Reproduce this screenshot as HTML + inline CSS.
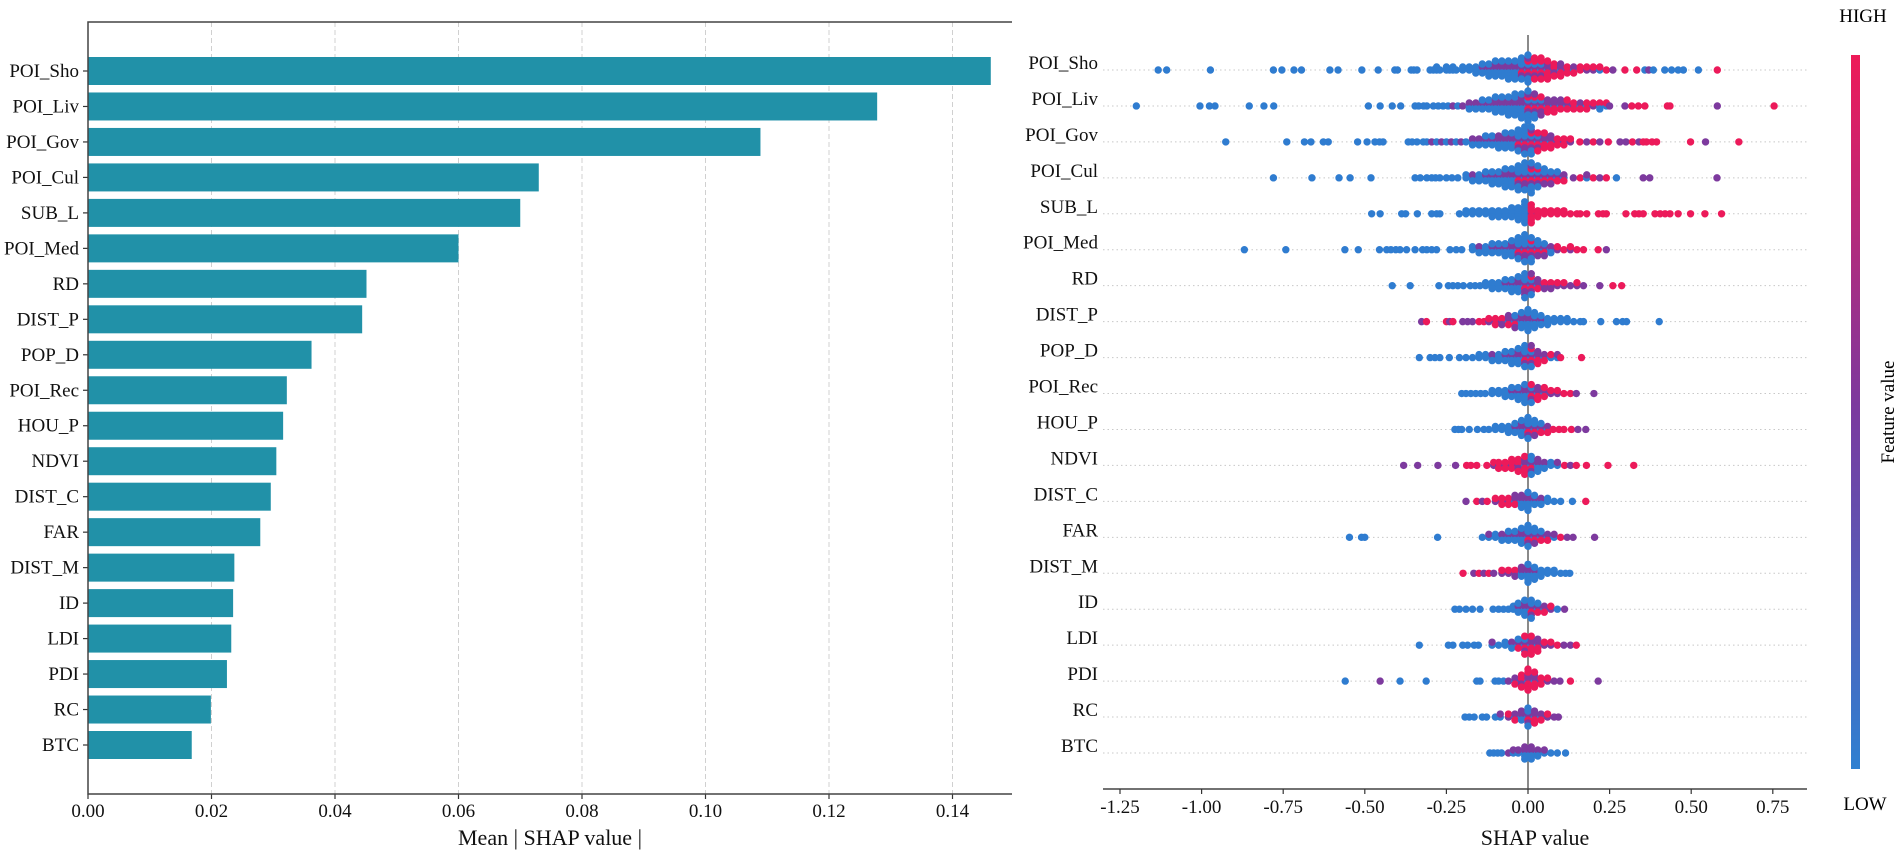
<!DOCTYPE html>
<html><head><meta charset="utf-8"><style>
html,body{margin:0;padding:0;background:#fff}
svg{display:block;font-family:"Liberation Serif","DejaVu Serif",serif}
</style></head><body>
<svg id="fig" width="1902" height="859" viewBox="0 0 1902 859" xmlns="http://www.w3.org/2000/svg">
<defs>
<linearGradient id="cbar" x1="0" y1="1" x2="0" y2="0">
<stop offset="0" stop-color="#2f80d1"/><stop offset="0.5" stop-color="#7a3a9f"/><stop offset="1" stop-color="#ee1a58"/>
</linearGradient>
</defs>
<g id="left"></g>
<g id="right"></g>
<g id="cb">
<line x1="1851" y1="34" x2="1851" y2="789" stroke="url(#cbar)" stroke-width="1.5"/>
<rect x="1851" y="55" width="9" height="714" fill="url(#cbar)"/>
<text x="1863" y="22" font-size="19" text-anchor="middle">HIGH</text>
<text x="1865" y="810" font-size="19" text-anchor="middle">LOW</text>
<text transform="translate(1894,412) rotate(-90)" font-size="19" text-anchor="middle">Feature value</text>
</g>
</svg>
<script>
const features = ["POI_Sho","POI_Liv","POI_Gov","POI_Cul","SUB_L","POI_Med","RD","DIST_P","POP_D","POI_Rec","HOU_P","NDVI","DIST_C","FAR","DIST_M","ID","LDI","PDI","RC","BTC"];
const meanShap = [0.1462,0.1278,0.1089,0.0730,0.0700,0.0600,0.0451,0.0444,0.0362,0.0322,0.0316,0.0305,0.0296,0.0279,0.0237,0.0235,0.0232,0.0225,0.0199,0.0168];
const barTicks = [0.00,0.02,0.04,0.06,0.08,0.10,0.12,0.14];
const shapTicks = [-1.25,-1.00,-0.75,-0.50,-0.25,0.00,0.25,0.50,0.75];
const swarmRows = [
"-1.133b -1.107b -0.973b -0.78b -0.754b -0.717b -0.694b -0.607b -0.582b -0.509b -0.459b -0.408b -0.4b -0.358b -0.35b -0.34b -0.3b -0.29b -0.28b2 -0.27b -0.25b2 -0.24b -0.23b2 -0.22b -0.2b2 -0.18b2 -0.16b3 -0.14b3p1 -0.12b4p1 -0.1b4p2 -0.08b4p2 -0.06b5p2 -0.04b5p2 -0.02b5p2r1 0b5p3r2 0.02r4b2p2 0.04r4p2b2 0.06r4p2b1 0.08r3p2 0.1r2p2b1 0.12r2p1 0.14r1p1b1 0.16r2 0.18r1p1 0.2r1p1 0.22r1b1 0.24r1 0.26p1 0.297r 0.333r 0.358b 0.37p 0.384b 0.419b 0.44b 0.46b 0.476b 0.522b 0.58r",
"-1.2b -1.005b -0.976b -0.959b -0.854b -0.809b -0.779b -0.489b -0.453b -0.416b -0.39b -0.346b -0.335b -0.32b -0.31b -0.29b -0.275b -0.26b -0.245b -0.23p -0.215b -0.2p -0.18b2p1 -0.16b2p1 -0.14b3p1 -0.12b3p1 -0.1b4p2 -0.08b4p2 -0.06b5p2 -0.04b6p2 -0.02b6p3 0b6p3r2 0.02b4p3r2 0.04p3r2b2 0.06r2p2b1 0.08r2p2b1 0.1p2r1b1 0.12r2p1b1 0.14r2p1 0.16p1r1b1 0.18r2b1 0.2r1p1 0.22b2r1 0.24b1r1 0.25p 0.297p 0.318r 0.338r 0.358r 0.427r 0.435r 0.58p 0.754r",
"-0.926b -0.739b -0.685b -0.665b -0.627b -0.612b -0.522b -0.493b -0.469b -0.455b -0.444b -0.367b -0.355b -0.34b -0.321b -0.31b -0.295p -0.28b -0.265p -0.25b -0.235p -0.22b -0.205p -0.19b -0.17b2p1 -0.15b2p1 -0.13b3p1 -0.11b3p1 -0.09b3p2 -0.07b4p2 -0.05b4p2 -0.03b5p2r1 -0.01b6p3r1 0.01b5p3r2 0.03r3p2b2 0.05r3p2b1 0.07r2p2b1 0.09r2p1 0.11r2p1 0.13p1r1 0.159r 0.18p 0.2r 0.22p 0.246r 0.282p 0.3p 0.32r 0.34p 0.353r 0.363r 0.38r 0.394r 0.498r 0.544p 0.646r",
"-0.78b -0.662b -0.579b -0.545b -0.481b -0.346b -0.33b -0.31b -0.295b -0.283b -0.27b -0.25b -0.233b -0.215b -0.19b2 -0.17b2p1 -0.15b3 -0.13b3p1 -0.11b4p1 -0.09b4p1 -0.07b5p2 -0.05b5p2 -0.03b6p2r1 -0.01b6p3r1 0.01b6p3r2 0.03b4p2r2 0.05b3p2r1 0.07b2p2r1 0.09b2p1r1 0.11b1p1r1 0.139p 0.16r 0.18b1p1 0.2r 0.22p 0.24r 0.271b 0.353p 0.373p 0.579p",
"-0.479b -0.453b -0.387b -0.375b -0.339b -0.295b -0.28b -0.27b -0.21b -0.19b2 -0.17b2 -0.15b2 -0.13b2 -0.11b3 -0.09b3 -0.07b3 -0.05b4 -0.03b5 -0.01b8 0.01r6p1 0.03r3 0.05r2 0.07r2 0.09r2 0.11r2 0.13r 0.15r 0.16r 0.18r 0.216r 0.23r 0.24r 0.3r 0.327r 0.34r 0.353r 0.389r 0.405r 0.42r 0.435r 0.46r 0.498r 0.542r 0.593r",
"-0.869b -0.742b -0.561b -0.52b -0.455b -0.433b -0.42b -0.405b -0.392b -0.372b -0.346b -0.323b -0.31b -0.295b -0.28b -0.239b -0.22b -0.203b -0.17b2 -0.15b2p1 -0.13b3 -0.11b3p1 -0.09b3p1 -0.07b4p1 -0.05b4p2 -0.03b5p2r1 -0.01b6p3r1 0.01b5p2r2 0.03b3p2r1 0.05b2p2r1 0.07b2p1 0.09r1p1 0.11r 0.13r1p1 0.15r 0.17r 0.215r 0.24p",
"-0.416b -0.361b -0.273b -0.244b -0.23b -0.215b -0.198b -0.177b -0.162b -0.147b -0.13b2 -0.11b3 -0.09b3 -0.07b3p1 -0.05b4p1 -0.03b4p2 -0.01b5p3r1 0.01p3r2b3 0.03p2r1b1 0.05p2r1 0.07p2r1 0.09p1r1 0.11p1r1 0.13p 0.15r1p1 0.17p 0.22p 0.26r 0.287r",
"-0.326p -0.311r -0.25r -0.24p -0.23r -0.2p -0.185p -0.17p -0.15r -0.135r -0.12r1p1 -0.1r2p1 -0.08p2r1 -0.06p2r1b1 -0.04p2r1b2 -0.02b4p2 0b6p2 0.02b5p1 0.04b3p1 0.06b3 0.08b2 0.1b2 0.12b2 0.14b 0.16b 0.17b 0.223b 0.271b 0.29b 0.302b 0.402b",
"-0.333b -0.3b -0.285b -0.27b -0.241b -0.21b -0.19b -0.17b -0.15b2 -0.13b2 -0.11b2p1 -0.09b3 -0.07b3p1 -0.05b4p1 -0.03b4p2 -0.01b5p2r1 0.01b3p3r2 0.03p2r2b1 0.05p1r1b1 0.07r1b1 0.09b1p1 0.1r 0.164r",
"-0.203b -0.19b -0.175b -0.16b -0.145b -0.131b -0.11b2 -0.09b2 -0.07b3 -0.05b3p1 -0.03b4p1 -0.01b5p2 0.01b3p2r2 0.03p2r2b1 0.05r2p1b1 0.07r1p1 0.09r1p1 0.11r 0.13r 0.148p 0.202p",
"-0.224b -0.213b -0.203b -0.18b -0.155b -0.135b -0.12b -0.1b2 -0.08b2 -0.06b3 -0.04b3p1 -0.02b4p2 0b5p2r1 0.02b3p2r1 0.04b2p1r1 0.06b1p1r1 0.077r 0.095r 0.11r 0.133r 0.153p 0.177p",
"-0.381p -0.338p -0.276p -0.222p -0.188r -0.175r -0.157r -0.126r -0.105r1p1 -0.09r2p1 -0.07r2p1 -0.05r3p1 -0.03r3p2 -0.01r4p2b1 0.01b4p2r1 0.03b3p2 0.05b2p1 0.07b2 0.09b1p1 0.112r 0.13p 0.148r 0.179r 0.245r 0.324r",
"-0.19p -0.157r -0.14p -0.125r -0.1r1p1 -0.08r2p1 -0.06r2p1 -0.04p2r1b1 -0.02b3p2 0b5p2 0.02b3p1 0.04b2p1 0.06b2 0.08b 0.1b 0.136b 0.177r",
"-0.547b -0.51b -0.5b -0.277b -0.14b -0.12b1p1 -0.1b2 -0.08b2p1 -0.06b3p1 -0.04b3p1 -0.02b4p2 0b5p2r1 0.02b3p2r1 0.04b2p1r1 0.06b1p1r1 0.08p1b1 0.1r 0.12p 0.138p 0.204p",
"-0.199r -0.166p -0.15r -0.135p -0.12r -0.105p -0.08r1p1 -0.06r1p1 -0.04p2r1 -0.02p2b2 0b5p2 0.02b4p1 0.04b3 0.06b2 0.08b2 0.1b 0.115b 0.128b",
"-0.224b -0.21b -0.19b -0.17b -0.147b -0.107b -0.09b -0.075b -0.06b -0.045b2 -0.03b3p1 -0.01b4p2 0.01b4p2r1 0.03b2p1r1 0.05b1p1r1 0.07p1r1 0.09b 0.112p",
"-0.333b -0.244b -0.23b -0.2b -0.185b -0.165b -0.152b -0.11b1p1 -0.09b -0.07b2 -0.05b2p1 -0.03b2p1r1 -0.01r3p2b2 0.01r4p2b1 0.03r2p2b1 0.05r1p1 0.07p1r1 0.09r 0.11p 0.13p 0.148r",
"-0.56b -0.453p -0.392b -0.312b -0.157b -0.147b -0.101b -0.09b -0.075b -0.06p -0.04r1p1b1 -0.02r3p2 0r5p2b1 0.02r3p2b1 0.04r2p1 0.06p1r1 0.08p 0.098p 0.13r 0.215p",
"-0.193b -0.18b -0.165b -0.14b -0.127b -0.1b -0.085b1p1 -0.06r1p1 -0.04p1b1r1 -0.02p2b2 0b4p2r1 0.02r2p2b1 0.04p1r1b1 0.06p1r1 0.08p 0.093p",
"-0.117b -0.105b -0.093b -0.081b -0.06p -0.045p1b1 -0.03p1b1 -0.01b3p2 0.01b3p2 0.03b2p1 0.05p1b1 0.07b 0.09b 0.115b"
];

const NS = "http://www.w3.org/2000/svg";
function mk(parent, tag, attrs, text){
  const el = document.createElementNS(NS, tag);
  for (const k in attrs) el.setAttribute(k, attrs[k]);
  if (text !== undefined) el.textContent = text;
  parent.appendChild(el);
  return el;
}

/* ---------- left bar chart ---------- */
const L = document.getElementById('left');
const bx0 = 88, bx1 = 1012, bTop = 22, bBot = 794;
const bScale = v => bx0 + v * 6175;
const rowPitchL = (745 - 71) / 19;
const bRowY = i => 71 + i * rowPitchL;

barTicks.forEach(t => {
  if (t > 0) {
    const g = mk(L, 'line', {x1: bScale(t), x2: bScale(t), y1: bTop, y2: bBot, stroke: '#d0d0d0', 'stroke-width': 1, 'stroke-dasharray': '5,3'});
    
    
  }
});
meanShap.forEach((v, i) => {
  const r = mk(L, 'rect', {x: bx0, y: bRowY(i) - 14, width: bScale(v) - bx0, height: 28, fill: '#2191a8'});
  
  
  const tk = mk(L, 'line', {x1: bx0 - 5, x2: bx0, y1: bRowY(i), y2: bRowY(i), stroke: '#333', 'stroke-width': 1.2});
  
  
  const lb = mk(L, 'text', {x: bx0 - 9, y: bRowY(i) + 6, 'font-size': 19, 'text-anchor': 'end', fill: '#111'}, features[i]);
  
  
});
barTicks.forEach(t => {
  const tk = mk(L, 'line', {x1: bScale(t), x2: bScale(t), y1: bBot, y2: bBot + 5, stroke: '#333', 'stroke-width': 1.2});
  
  
  const lb = mk(L, 'text', {x: bScale(t), y: 817, 'font-size': 19, 'text-anchor': 'middle', fill: '#111'}, t.toFixed(2));
  
  
});
const sp1 = mk(L, 'polyline', {points: `${bx1},${bTop} ${bx0},${bTop} ${bx0},${bBot} ${bx1},${bBot}`, fill: 'none', stroke: '#444', 'stroke-width': 1.5});


const lt = mk(L, 'text', {x: 550, y: 845, 'font-size': 22, 'text-anchor': 'middle', fill: '#111'}, 'Mean | SHAP value |');



/* ---------- right beeswarm ---------- */
const R = document.getElementById('right');
const sx0 = 1103, sx1 = 1807, sBot = 789;
const sScale = v => 1528 + v * 326.4;
const rowPitchR = (753 - 70) / 19;
const sRowY = i => 70 + i * rowPitchR;
const colorOf = {b: '#2f7cd0', p: '#7d3a9e', r: '#ec1a5a'};

features.forEach((f, i) => {
  const y = sRowY(i);
  const gl = mk(R, 'line', {x1: sx0, x2: sx1, y1: y, y2: y, stroke: '#c8c8c8', 'stroke-width': 1, 'stroke-dasharray': '1.5,3'});
  
  
  const lb = mk(R, 'text', {x: 1098, y: y - 1, 'font-size': 19, 'text-anchor': 'end', fill: '#111'}, f);
  
  
});
const zl = mk(R, 'line', {x1: sScale(0), x2: sScale(0), y1: 35, y2: sBot, stroke: '#8a8a8a', 'stroke-width': 2});



swarmRows.forEach((row, i) => {
  const y0 = sRowY(i);
  row.trim().split(/\s+/).forEach(tok => {
    const m = tok.match(/^(-?\d*\.?\d+)(.*)$/);
    const v = parseFloat(m[1]);
    const cols = [];
    m[2].replace(/([bpr])(\d*)/g, (s, c, n) => { const k = n ? parseInt(n) : 1; for (let j = 0; j < k; j++) cols.push(c); return s; });
    const order = [];
    const byC = {b: [], p: [], r: []};
    cols.forEach(c => byC[c].push(c));
    while (byC.b.length || byC.p.length || byC.r.length) {
      ['b', 'p', 'r'].forEach(c => { if (byC[c].length) order.push(byC[c].pop()); });
    }
    order.forEach((c, j) => {
      const k = Math.ceil(j / 2);
      const off = (j % 2 === 1 ? -1 : 1) * k * 3.0;
      const d = mk(R, 'circle', {cx: sScale(v), cy: y0 + off, r: 3.7, fill: colorOf[c]});
      
      
    });
  });
});

const sp2 = mk(R, 'line', {x1: sx0, x2: sx1, y1: sBot, y2: sBot, stroke: '#444', 'stroke-width': 1.5});


shapTicks.forEach(t => {
  const tk = mk(R, 'line', {x1: sScale(t), x2: sScale(t), y1: sBot, y2: sBot + 5, stroke: '#333', 'stroke-width': 1.2});
  
  
  const lb = mk(R, 'text', {x: sScale(t), y: 813, 'font-size': 19, 'text-anchor': 'middle', fill: '#111'}, t.toFixed(2));
  
  
});
const rt = mk(R, 'text', {x: 1535, y: 845, 'font-size': 22, 'text-anchor': 'middle', fill: '#111'}, 'SHAP value');


</script>
</body></html>
